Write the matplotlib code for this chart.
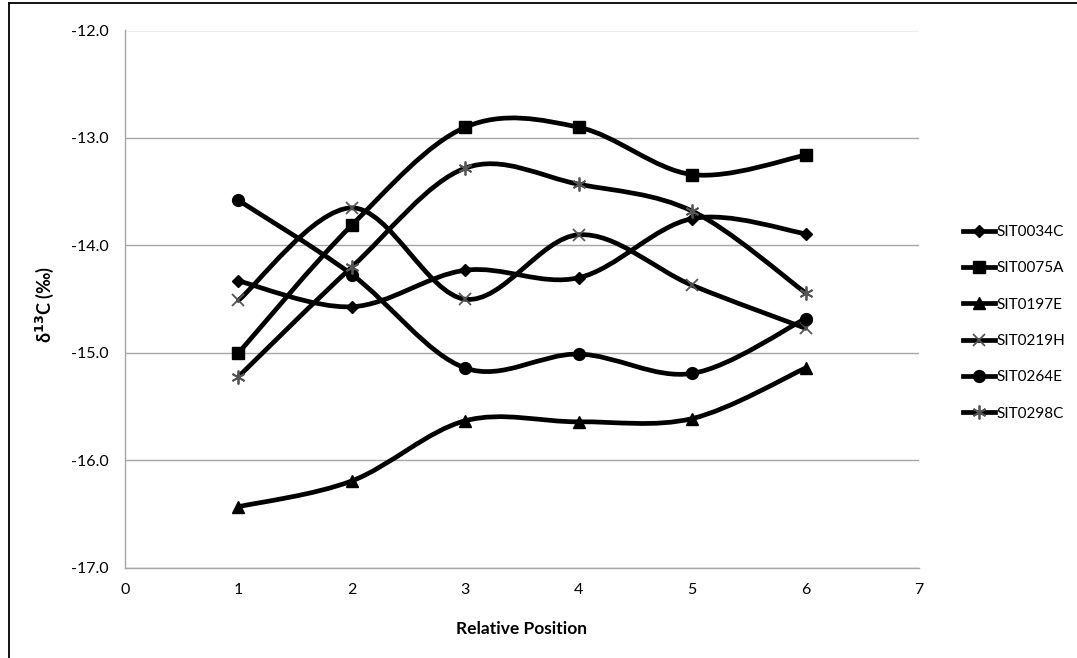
import matplotlib
matplotlib.use("Agg")
import matplotlib.pyplot as plt
from matplotlib.path import Path
from matplotlib.patches import PathPatch
from matplotlib.lines import Line2D
import numpy as np

plt.rcParams['font.family'] = ['Lato', 'DejaVu Sans']

positions = [1, 2, 3, 4, 5, 6]
series_names = ["SIT0034C", "SIT0075A", "SIT0197E", "SIT0219H", "SIT0264E", "SIT0298C"]
sit0034c = [-14.33, -14.57, -14.23, -14.30, -13.75, -13.89]
sit0075a = [-15.00, -13.81, -12.90, -12.90, -13.34, -13.16]
sit0197e = [-16.43, -16.19, -15.63, -15.64, -15.61, -15.14]
sit0219h = [-14.51, -13.65, -14.50, -13.90, -14.37, -14.77]
sit0264e = [-13.58, -14.27, -15.14, -15.01, -15.19, -14.68]
sit0298c = [-15.22, -14.20, -13.28, -13.43, -13.68, -14.44]
all_series = [sit0034c, sit0075a, sit0197e, sit0219h, sit0264e, sit0298c]

xticks = [0, 1, 2, 3, 4, 5, 6, 7]
yticks = [-17.0, -16.0, -15.0, -14.0, -13.0, -12.0]

markers = ['D', 's', '^', 'x', 'o', (6, 2, 0)]
msizes = [6, 8.5, 9, 9, 8.5, 10]
mcolors = ['black', 'black', 'black', '#555555', 'black', '#555555']
mew = [1, 1, 1, 1.3, 1, 1.3]

fig = plt.figure(figsize=(10.77, 6.58), dpi=100)
ax = fig.add_axes([125 / 1077, 1 - 568 / 658, (919 - 125) / 1077, (568 - 30.5) / 658])


def smooth_path(xs, ys):
    pts = np.column_stack([xs, ys]).astype(float)
    n = len(pts)
    verts = [pts[0]]
    codes = [Path.MOVETO]
    for i in range(n - 1):
        p0 = pts[i - 1] if i > 0 else pts[i]
        p1 = pts[i]
        p2 = pts[i + 1]
        p3 = pts[i + 2] if i + 2 < n else pts[i + 1]
        c1 = p1 + (p2 - p0) / 6.0
        c2 = p2 - (p3 - p1) / 6.0
        verts += [c1, c2, p2]
        codes += [Path.CURVE4] * 3
    return Path(verts, codes)


for name, vals, m, ms, mc, mw in zip(series_names, all_series, markers, msizes, mcolors, mew):
    patch = PathPatch(smooth_path(positions, vals), facecolor='none', edgecolor='black',
                      lw=3.4, capstyle='round', joinstyle='round', zorder=3)
    ax.add_patch(patch)
    ax.plot(positions, vals, linestyle='none', marker=m, markersize=ms,
            color=mc, markeredgecolor=mc, markeredgewidth=mw, zorder=4)

ax.set_xlim(0, 7)
ax.set_ylim(-17.0, -12.0)
ax.set_xticks(xticks)
ax.set_xticklabels([str(v) for v in xticks])
ax.set_yticks(yticks)
ax.set_yticklabels([f"{v:.1f}" for v in yticks])
ax.tick_params(length=0, labelsize=11.5, pad=12)
ax.tick_params(axis='x', pad=11)
ax.grid(axis='y', color='#a6a6a6', lw=1.0)
ax.set_axisbelow(True)
for s in ['top', 'right']:
    ax.spines[s].set_visible(False)
for s in ['left', 'bottom']:
    ax.spines[s].set_color('#a6a6a6')
    ax.spines[s].set_linewidth(1.0)

ax.set_xlabel("Relative Position", fontsize=12.5, fontweight='bold')
ax.xaxis.label.set_va('center')
ax.xaxis.set_label_coords(0.5, -(629 - 568) / 537.5)
ax.set_ylabel(r"δ$^{\mathbf{13}}$C (‰)", fontsize=13, fontweight='bold')
ax.yaxis.label.set_va('center')
ax.yaxis.set_label_coords((45 - 125) / 794, 0.49)

handles = [Line2D([0], [0], color='black', lw=3.4, marker=m, markersize=ms,
                  markerfacecolor=mc, markeredgecolor=mc, markeredgewidth=mw)
           for m, ms, mc, mw in zip(markers, msizes, mcolors, mew)]
fig.legend(handles, series_names, loc='upper left', bbox_to_anchor=(963 / 1077, 1 - 225 / 658),
           frameon=False, fontsize=11, handlelength=2.1, handletextpad=0.12,
           labelspacing=1.46, borderpad=0, borderaxespad=0)

# outer frame (cropped at right and bottom)
fig.add_artist(Line2D([9 / 1077, 1.0], [1 - 3 / 658, 1 - 3 / 658], color='black', lw=1.3,
                      transform=fig.transFigure))
fig.add_artist(Line2D([9 / 1077, 9 / 1077], [0.0, 1 - 3 / 658], color='black', lw=1.3,
                      transform=fig.transFigure))

fig.savefig("out.png", dpi=100)
